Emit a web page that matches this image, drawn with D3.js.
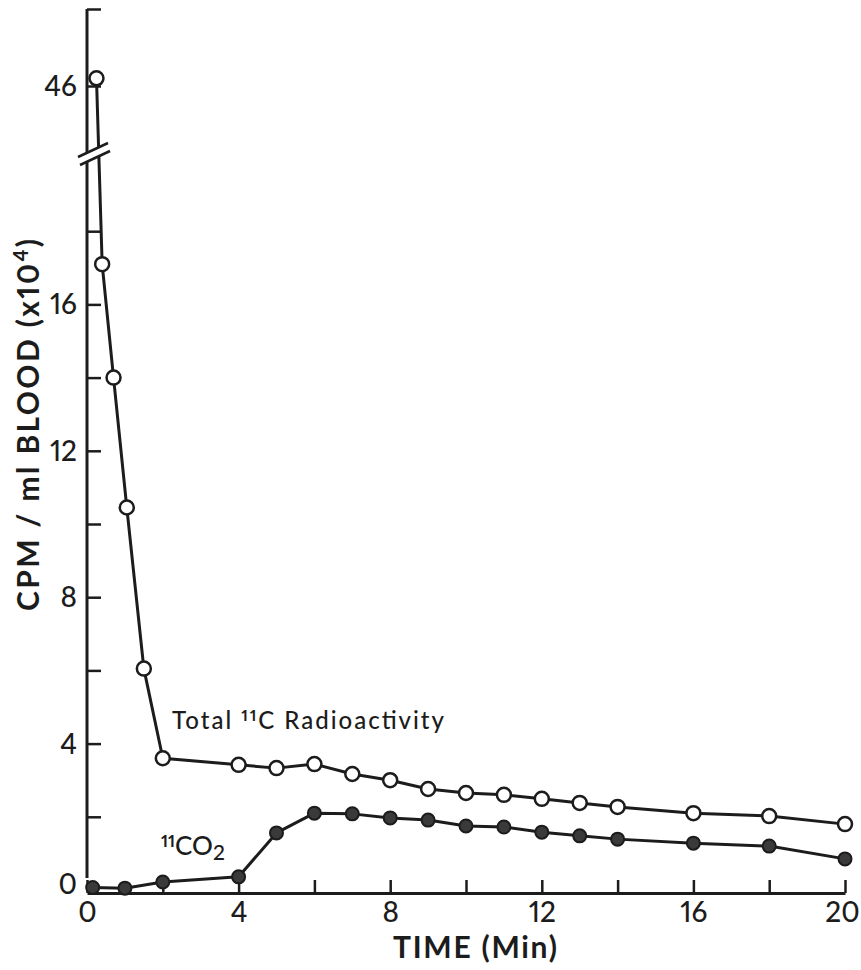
<!DOCTYPE html>
<html>
<head>
<meta charset="utf-8">
<script src="https://cdn.jsdelivr.net/npm/d3@7"></script>
<style>
  html, body { margin: 0; padding: 0; background: #fff; }
  svg { display: block; }
  text { font-family: Lato, "Open Sans", sans-serif; fill: #1c1c1c; font-variant-numeric: proportional-nums; }
</style>
</head>
<body>
<svg id="chart" width="861" height="970"></svg>
<script>
// Blood radioactivity after injection (CPM per ml, x10^4) against time in minutes
const totalTime = [0.25, 0.4, 0.7, 1.05, 1.5, 2, 4, 5, 6, 7, 8, 9, 10, 11, 12, 13, 14, 16, 18, 20];
const totalCpm  = [46.2, 17.1, 14.0, 10.45, 6.05, 3.6, 3.42, 3.33, 3.44, 3.17, 3.0, 2.76, 2.65, 2.6, 2.49, 2.38, 2.27, 2.1, 2.02, 1.8];

const co2Time = [0.15, 1, 2, 4, 5, 6, 7, 8, 9, 10, 11, 12, 13, 14, 16, 18, 20];
const co2Cpm  = [0.07, 0.05, 0.22, 0.36, 1.56, 2.1, 2.08, 1.97, 1.91, 1.75, 1.72, 1.58, 1.48, 1.39, 1.28, 1.2, 0.85];

const xTicks = [0, 2, 4, 6, 8, 10, 12, 14, 16, 18, 20];
const xTickLabels = [0, 4, 8, 12, 16, 20];
const yTicks = [0, 2, 4, 6, 8, 10, 12, 14, 16, 18, 46, 48];
const yTickLabels = [0, 4, 8, 12, 16, 46];

const svg = d3.select("#chart");
const ink = "#1c1c1c";

const x = d3.scaleLinear().domain([0, 20]).range([87, 845]);
// broken value axis: 0–20 linear, compressed gap, then 46–48 on top
const y = d3.scaleLinear().domain([0, 20, 46, 48]).range([890, 158, 86, 9]);

const x0 = x(0);
const xAxisY = y(0) + 3;

// ---- x axis ----
const gx = svg.append("g")
  .attr("transform", `translate(0,${xAxisY})`)
  .call(d3.axisBottom(x)
    .tickValues(xTicks)
    .tickSizeInner(-13)
    .tickSizeOuter(0)
    .tickPadding(9)
    .tickFormat(d => xTickLabels.includes(d) ? d : ""));
gx.select(".domain").attr("stroke", ink).attr("stroke-width", 3);
gx.selectAll(".tick line").attr("stroke", ink).attr("stroke-width", 2.5);
gx.selectAll(".tick text").attr("font-size", 28).attr("font-weight", 500).attr("fill", ink)
  .attr("dx", d => d === 20 ? -3 : 0);

// ---- y axis ----
const gy = svg.append("g")
  .attr("transform", `translate(${x0},0)`)
  .call(d3.axisLeft(y)
    .tickValues(yTicks)
    .tickSizeInner(-14)
    .tickSizeOuter(0)
    .tickPadding(10)
    .tickFormat(d => yTickLabels.includes(d) ? d : ""));
gy.select(".domain").remove();
gy.selectAll(".tick line").attr("stroke", ink).attr("stroke-width", 2.5)
  .attr("display", d => d === 0 ? "none" : null);
gy.selectAll(".tick text").attr("font-size", 28).attr("font-weight", 500).attr("fill", ink)
  .attr("dy", d => d === 0 ? "0.12em" : "0.34em");
gy.append("line")
  .attr("x1", 0).attr("x2", 0)
  .attr("y1", y(48)).attr("y2", y(0) - 12)
  .attr("stroke", ink).attr("stroke-width", 3);

// ---- series ----
const line = d3.line().x(d => x(d[0])).y(d => y(d[1]));
const totalPts = totalTime.map((t, i) => [t, totalCpm[i]]);
const co2Pts = co2Time.map((t, i) => [t, co2Cpm[i]]);

svg.append("path").datum(totalPts).attr("d", line)
  .attr("fill", "none").attr("stroke", ink).attr("stroke-width", 3).attr("stroke-linejoin", "round");
svg.append("path").datum(co2Pts).attr("d", line)
  .attr("fill", "none").attr("stroke", ink).attr("stroke-width", 3).attr("stroke-linejoin", "round");

// ---- axis break marks ----
const by = 155;
const brk = svg.append("g").attr("transform", `translate(${x0},${by})`);
brk.append("polygon")
  .attr("points", "-9,2 21,-12 23,-4 -7,10")
  .attr("fill", "#fff");
brk.append("line").attr("x1", -9).attr("y1", 2).attr("x2", 21).attr("y2", -12)
  .attr("stroke", ink).attr("stroke-width", 2.5);
brk.append("line").attr("x1", -7).attr("y1", 10).attr("x2", 23).attr("y2", -4)
  .attr("stroke", ink).attr("stroke-width", 2.5);

// ---- markers ----
svg.append("g").selectAll("circle").data(co2Pts).join("circle")
  .attr("cx", d => x(d[0])).attr("cy", d => y(d[1])).attr("r", 6.5)
  .attr("fill", "#3a3a3a").attr("stroke", ink).attr("stroke-width", 2);
svg.append("g").selectAll("circle").data(totalPts).join("circle")
  .attr("cx", d => x(d[0])).attr("cy", d => y(d[1])).attr("r", 7)
  .attr("fill", "#fff").attr("stroke", ink).attr("stroke-width", 2.5);

// ---- series labels ----
const tLab = svg.append("text").attr("x", 172).attr("y", 729)
  .attr("font-size", 24).attr("font-weight", 500)
  .attr("textLength", 272).attr("lengthAdjust", "spacing");
tLab.append("tspan").text("Total ");
tLab.append("tspan").attr("font-size", 16).attr("font-weight", 700).attr("dy", -8).text("11");
tLab.append("tspan").attr("dy", 8).text("C Radioactivity");

const cLab = svg.append("text").attr("x", 161).attr("y", 855)
  .attr("font-size", 26).attr("font-weight", 500);
cLab.append("tspan").attr("font-size", 17).attr("font-weight", 700).attr("dy", -8).text("11");
cLab.append("tspan").attr("dy", 8).text("CO");
cLab.append("tspan").attr("font-size", 21).attr("dy", 5).text("2");

// ---- axis titles ----
svg.append("text")
  .attr("x", 475).attr("y", 958)
  .attr("text-anchor", "middle")
  .attr("font-size", 30).attr("font-weight", 700)
  .attr("textLength", 164).attr("lengthAdjust", "spacing")
  .text("TIME  (Min)");

const yt = svg.append("text")
  .attr("transform", "translate(39,425) rotate(-90)")
  .attr("text-anchor", "middle")
  .attr("font-size", 30).attr("font-weight", 700)
  .attr("textLength", 372).attr("lengthAdjust", "spacing");
yt.append("tspan").text("CPM / ml BLOOD (x10");
yt.append("tspan").attr("font-size", 20).attr("dy", -11).text("4");
yt.append("tspan").attr("dy", 11).text(")");
</script>
</body>
</html>
